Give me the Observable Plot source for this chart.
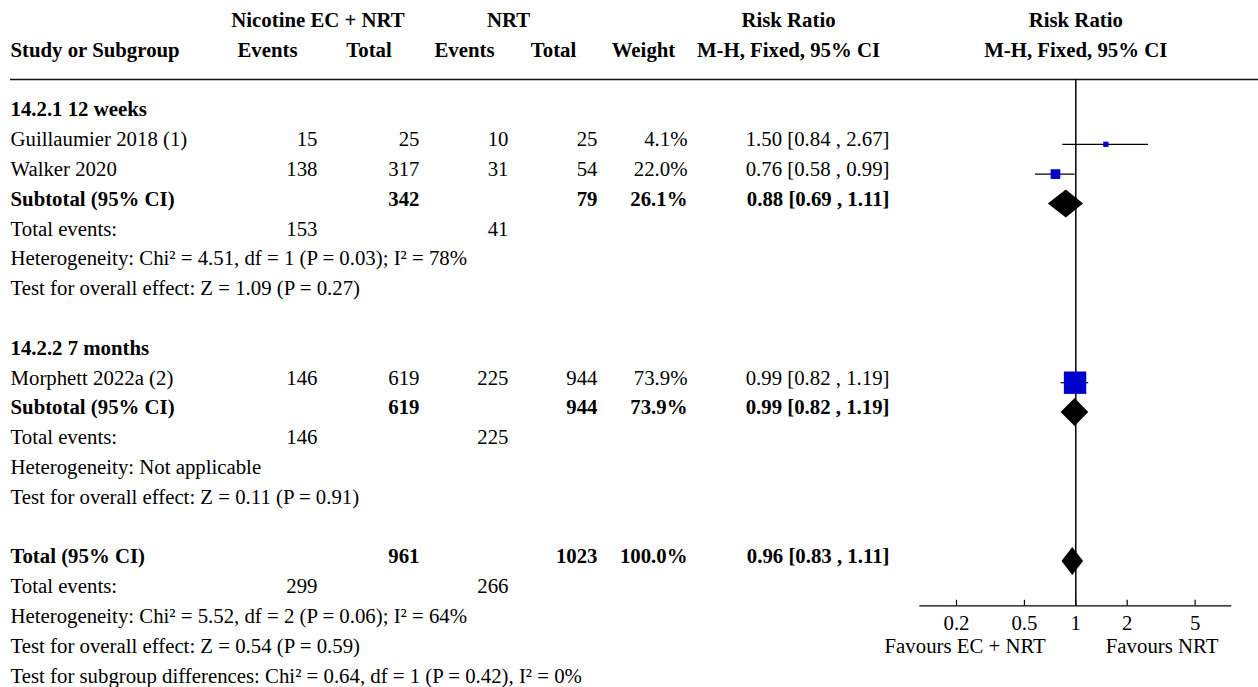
<!DOCTYPE html>
<html><head><meta charset="utf-8">
<script src="https://cdn.jsdelivr.net/npm/d3@7"></script>
<script src="https://cdn.jsdelivr.net/npm/@observablehq/plot@0.6"></script>
<style>html,body{margin:0;padding:0;background:#fff;overflow:hidden}</style>
</head><body><div id="chart"></div>
<script>
// ---------------- data ----------------
const subgroups = ["14.2.1 12 weeks", "14.2.2 7 months"];
const studies = ["Guillaumier 2018 (1)", "Walker 2020", "Morphett 2022a (2)"];
const studySubgroup = [0, 0, 1];
const ecEvents = [15, 138, 146];
const ecTotal = [25, 317, 619];
const nrtEvents = [10, 31, 225];
const nrtTotal = [25, 54, 944];
const studyWeight = [4.1, 22.0, 73.9];
const studyRR = [1.50, 0.76, 0.99];
const studyLo = [0.84, 0.58, 0.82];
const studyHi = [2.67, 0.99, 1.19];

const subEcTotal = [342, 619];
const subNrtTotal = [79, 944];
const subWeight = [26.1, 73.9];
const subRR = [0.88, 0.99];
const subLo = [0.69, 0.82];
const subHi = [1.11, 1.19];
const subEcEvents = [153, 146];
const subNrtEvents = [41, 225];
const subHeterogeneity = ["Chi² = 4.51, df = 1 (P = 0.03); I² = 78%", "Not applicable"];
const subOverall = ["Z = 1.09 (P = 0.27)", "Z = 0.11 (P = 0.91)"];

const totalSums = [961, 1023];           // EC + NRT total, NRT total
const totalWeight = 100.0;
const totalCI = [0.96, 0.83, 1.11];      // estimate, lower, upper
const totalEvents = [299, 266];
const totalHeterogeneity = "Chi² = 5.52, df = 2 (P = 0.06); I² = 64%";
const totalOverall = "Z = 0.54 (P = 0.59)";
const subgroupDifferences = "Chi² = 0.64, df = 1 (P = 0.42), I² = 0%";

const headerGroupLabels = ["Nicotine EC + NRT", "NRT", "Risk Ratio"];
const headerColumnLabels = ["Study or Subgroup", "Events", "Total", "Events", "Total", "Weight", "M-H, Fixed, 95% CI"];
const forestHeader = ["Risk Ratio", "M-H, Fixed, 95% CI"];
const axisTicks = [0.2, 0.5, 1, 2, 5];
const axisExtent = [0.122, 8.2];
const favours = ["Favours EC + NRT", "Favours NRT"];

// ---------------- table rows ----------------
const rows = [];
subgroups.forEach((g, gi) => {
  rows.push({label: g, bold: true});
  studies.forEach((s, i) => {
    if (studySubgroup[i] !== gi) return;
    rows.push({label: s, ec: ecEvents[i], ecN: ecTotal[i], nrt: nrtEvents[i], nrtN: nrtTotal[i],
      w: studyWeight[i], est: studyRR[i], lo: studyLo[i], hi: studyHi[i], kind: "study"});
  });
  rows.push({label: "Subtotal (95% CI)", bold: true, ecN: subEcTotal[gi], nrtN: subNrtTotal[gi],
    w: subWeight[gi], est: subRR[gi], lo: subLo[gi], hi: subHi[gi], kind: "summary"});
  rows.push({label: "Total events:", ec: subEcEvents[gi], nrt: subNrtEvents[gi]});
  rows.push({label: "Heterogeneity: " + subHeterogeneity[gi]});
  rows.push({label: "Test for overall effect: " + subOverall[gi]});
  rows.push(null);
});
rows.push({label: "Total (95% CI)", bold: true, ecN: totalSums[0], nrtN: totalSums[1], w: totalWeight,
  est: totalCI[0], lo: totalCI[1], hi: totalCI[2], kind: "summary"});
rows.push({label: "Total events:", ec: totalEvents[0], nrt: totalEvents[1]});
rows.push({label: "Heterogeneity: " + totalHeterogeneity});
rows.push({label: "Test for overall effect: " + totalOverall});
rows.push({label: "Test for subgroup differences: " + subgroupDifferences});
rows.forEach((r, i) => { if (r) r.row = i; });
const lines = rows.filter(Boolean);

// ---------------- layout ----------------
const FONT = 20.8, TEXT_DY = -4.7;
const ROW0 = 114, ROW_H = 29.8, NROW = 19;
const HEADER_GROUP_ROW = -3, HEADER_COL_ROW = -2, HEADER_RULE_ROW = -1.174, AXIS_ROW = 16.487;
const DIAMOND_HALF = 14 / ROW_H, TICK_LEN = 5.5 / ROW_H;
const groupX = [317.5, 508, 788];
const colHeadX = [10, 267, 368.5, 464, 553, 643, 788];
const cols = [
  {key: "label", x: 10, anchor: "start", fmt: r => r.label},
  {key: "ec", x: 317, anchor: "end", fmt: r => String(r.ec)},
  {key: "ecN", x: 419, anchor: "end", fmt: r => String(r.ecN)},
  {key: "nrt", x: 508, anchor: "end", fmt: r => String(r.nrt)},
  {key: "nrtN", x: 597, anchor: "end", fmt: r => String(r.nrtN)},
  {key: "w", x: 687, anchor: "end", fmt: r => r.w.toFixed(1) + "%"},
  {key: "est", x: 889, anchor: "end", fmt: r => `${r.est.toFixed(2)} [${r.lo.toFixed(2)} , ${r.hi.toFixed(2)}]`}
];

const marks = [];
// header rows
headerGroupLabels.forEach((t, i) => marks.push(Plot.text([t], {frameAnchor: "left", dx: groupX[i], y: () => HEADER_GROUP_ROW,
  dy: TEXT_DY, text: d => d, textAnchor: "middle", fontWeight: "bold", fontSize: FONT})));
headerColumnLabels.forEach((t, i) => marks.push(Plot.text([t], {frameAnchor: "left", dx: colHeadX[i], y: () => HEADER_COL_ROW,
  dy: TEXT_DY, text: d => d, textAnchor: i === 0 ? "start" : "middle", fontWeight: "bold", fontSize: FONT})));
marks.push(Plot.text(forestHeader, {x: () => 1, y: (d, i) => HEADER_GROUP_ROW + i, dy: TEXT_DY, text: d => d,
  textAnchor: "middle", fontWeight: "bold", fontSize: FONT}));
// header rule
marks.push(Plot.ruleY([HEADER_RULE_ROW], {y: d => d, insetLeft: 10, stroke: "#111", strokeWidth: 1.5}));

// table body
for (const c of cols) for (const bold of [false, true]) {
  const data = lines.filter(r => r[c.key] != null && !!r.bold === bold);
  if (!data.length) continue;
  marks.push(Plot.text(data, {frameAnchor: "left", dx: c.x, y: "row", dy: TEXT_DY, text: c.fmt,
    textAnchor: c.anchor, fontWeight: bold ? "bold" : "normal", fontSize: FONT}));
}

// forest plot
const studyLines = lines.filter(r => r.kind === "study");
const summaryLines = lines.filter(r => r.kind === "summary");
const diamondPts = summaryLines.flatMap(r => [
  {id: r.row, x: r.lo, y1: r.row, y2: r.row},
  {id: r.row, x: r.est, y1: r.row - DIAMOND_HALF, y2: r.row + DIAMOND_HALF},
  {id: r.row, x: r.hi, y1: r.row, y2: r.row}
]);
marks.push(Plot.ruleX([1], {x: d => d, y1: () => HEADER_RULE_ROW, y2: () => AXIS_ROW, stroke: "black", strokeWidth: 1.5}));
marks.push(Plot.ruleY(studyLines, {y: "row", x1: "lo", x2: "hi", stroke: "black", strokeWidth: 1.2}));
marks.push(Plot.dot(studyLines, {x: "est", y: "row", r: "w", symbol: "square", fill: "#0000CC", stroke: "none"}));
marks.push(Plot.areaY(diamondPts, {x: "x", y1: "y1", y2: "y2", z: "id", fill: "black", curve: "linear"}));

// axis
marks.push(Plot.ruleY([AXIS_ROW], {y: d => d, x1: () => axisExtent[0], x2: () => axisExtent[1], stroke: "black", strokeWidth: 1.3}));
marks.push(Plot.ruleX(axisTicks, {x: d => d, y1: () => AXIS_ROW - TICK_LEN, y2: () => AXIS_ROW, stroke: "black", strokeWidth: 1.2}));
marks.push(Plot.text(axisTicks, {x: d => d, y: () => AXIS_ROW, dy: 18, text: d => String(d), textAnchor: "middle", fontSize: FONT}));
marks.push(Plot.text([favours[0]], {x: () => 1, y: () => AXIS_ROW, dx: -30, dy: 41, text: d => d, textAnchor: "end", fontSize: FONT}));
marks.push(Plot.text([favours[1]], {x: () => 1, y: () => AXIS_ROW, dx: 30, dy: 41, text: d => d, textAnchor: "start", fontSize: FONT}));

const chart = Plot.plot({
  width: 1258, height: 687,
  marginTop: 0, marginRight: 0, marginBottom: 0, marginLeft: 0,
  style: {fontFamily: "'Liberation Serif', 'Times New Roman', serif", fontSize: FONT + "px", background: "#fff", color: "#000"},
  x: {type: "log", domain: [0.1, 10], range: [904.6, 1246.0], axis: null},
  y: {type: "linear", domain: [0, NROW], range: [ROW0, ROW0 + NROW * ROW_H], axis: null},
  r: {type: "linear", domain: [4.1, 73.9], range: [2.99, 12.64]},
  marks
});
document.getElementById("chart").appendChild(chart);
</script>
</body></html>
